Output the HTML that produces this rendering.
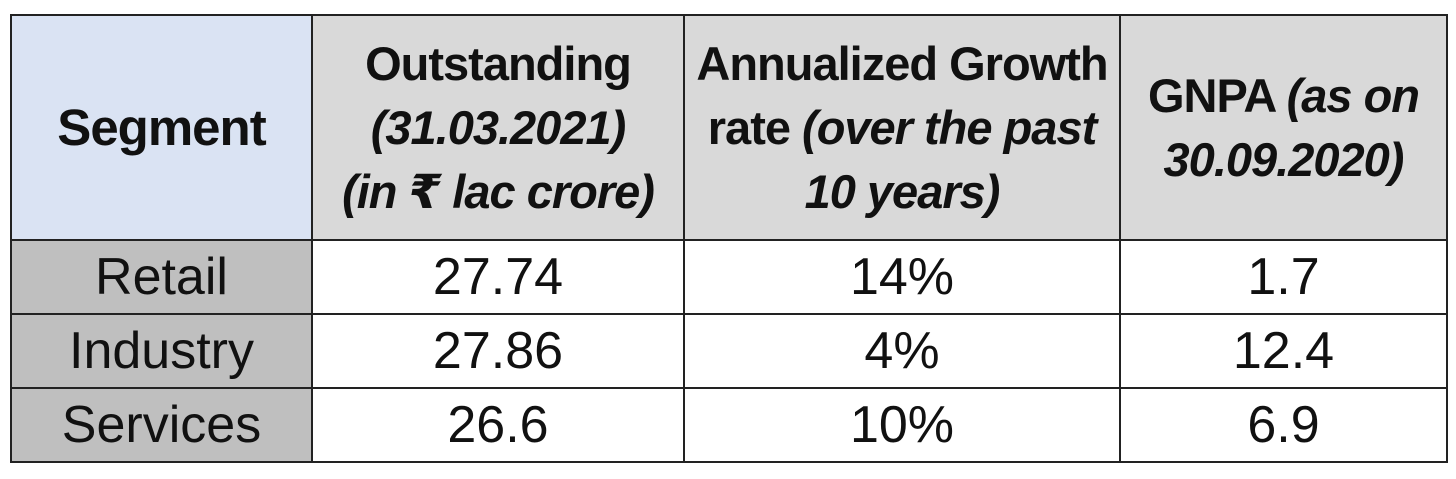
<!DOCTYPE html>
<html><head><meta charset="utf-8"><style>
body{margin:0;width:1456px;height:479px;background:#fff;overflow:hidden;font-family:"Liberation Sans","DejaVu Sans",sans-serif;color:#111}
table{position:absolute;left:10px;top:14px;border-collapse:collapse;table-layout:fixed}
td{border:2px solid #222;text-align:center;vertical-align:middle;padding:0;white-space:nowrap;overflow:visible}
.h{height:223px;background:#d9d9d9;font-size:47px;line-height:64px;font-weight:bold;letter-spacing:-1px}
.h i{font-weight:bold}
.seg{background:#dae3f3;font-size:51px}
.lab{background:#bfbfbf}
.r td{height:72px;font-size:52px}
</style></head><body>
<table>
<colgroup><col style="width:301px"><col style="width:372px"><col style="width:436px"><col style="width:327px"></colgroup>
<tr>
<td class="h seg">Segment</td>
<td class="h">Outstanding<br><i>(31.03.2021)</i><br><i>(in ₹ lac crore)</i></td>
<td class="h">Annualized Growth<br>rate <i>(over the past</i><br><i>10 years)</i></td>
<td class="h">GNPA <i>(as on</i><br><i>30.09.2020)</i></td>
</tr>
<tr class="r">
<td class="lab">Retail</td>
<td>27.74</td>
<td>14%</td>
<td>1.7</td>
</tr>
<tr class="r">
<td class="lab">Industry</td>
<td>27.86</td>
<td>4%</td>
<td>12.4</td>
</tr>
<tr class="r">
<td class="lab">Services</td>
<td>26.6</td>
<td>10%</td>
<td>6.9</td>
</tr>
</table>
</body></html>
